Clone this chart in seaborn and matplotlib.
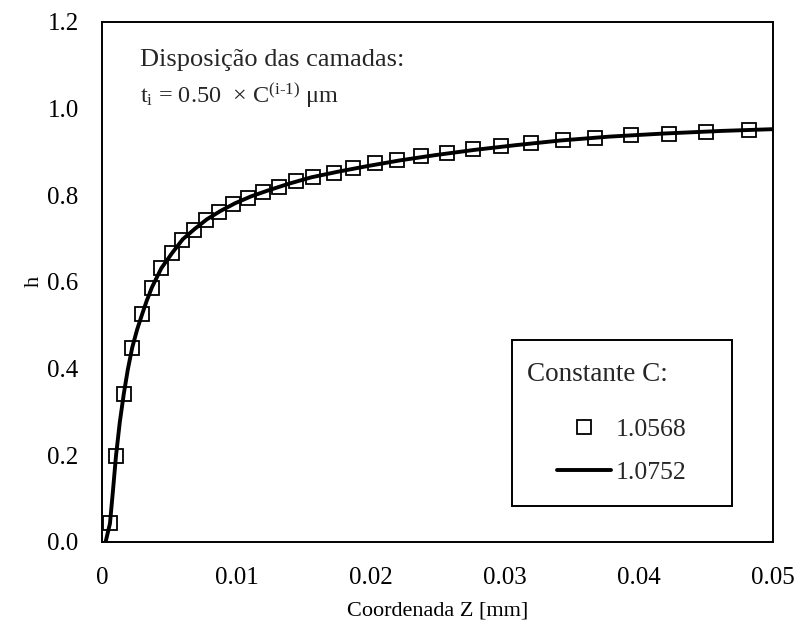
import matplotlib
matplotlib.use("Agg")
import matplotlib.pyplot as plt
import seaborn as sns
import pandas as pd
from matplotlib.patches import Rectangle

# ---- data ----
z_c1 = [0.00057, 0.00102, 0.00160, 0.00223, 0.00297, 0.00370, 0.00440, 0.00522,
        0.00592, 0.00681, 0.00773, 0.00872, 0.00976, 0.01083, 0.01200, 0.01319,
        0.01443, 0.01572, 0.01727, 0.01870, 0.02032, 0.02201, 0.02375, 0.02571,
        0.02765, 0.02976, 0.03200, 0.03435, 0.03677, 0.03945, 0.04225, 0.04504,
        0.04821]
h_c1 = [0.042, 0.198, 0.341, 0.448, 0.525, 0.585, 0.631, 0.667,
        0.696, 0.719, 0.742, 0.761, 0.779, 0.794, 0.807, 0.819,
        0.832, 0.842, 0.851, 0.863, 0.873, 0.882, 0.889, 0.898,
        0.906, 0.913, 0.920, 0.926, 0.931, 0.938, 0.942, 0.946,
        0.949]

z_c2 = [0.00025, 0.00057, 0.0008, 0.00102, 0.0013, 0.0016, 0.0019, 0.00223,
        0.0026, 0.00297, 0.0033, 0.0037, 0.0044, 0.0052, 0.0060, 0.0069,
        0.0078, 0.0088, 0.0099, 0.0111, 0.0124, 0.0139, 0.0156, 0.0176,
        0.0198, 0.0222, 0.0248, 0.0277, 0.0308, 0.0342, 0.0379, 0.0419,
        0.0462, 0.0500]
h_c2 = [0.000, 0.042, 0.120, 0.198, 0.275, 0.341, 0.397, 0.448,
        0.490, 0.525, 0.555, 0.587, 0.631, 0.666, 0.698, 0.722,
        0.744, 0.763, 0.781, 0.797, 0.811, 0.826, 0.841, 0.854,
        0.867, 0.880, 0.892, 0.904, 0.915, 0.926, 0.935, 0.942,
        0.948, 0.952]

label_c1 = "1.0568"
label_c2 = "1.0752"
legend_title = "Constante C:"
x_ticks = [0, 0.01, 0.02, 0.03, 0.04, 0.05]
x_tick_labels = ["0", "0.01", "0.02", "0.03", "0.04", "0.05"]
y_ticks = [0.0, 0.2, 0.4, 0.6, 0.8, 1.0, 1.2]
y_tick_labels = ["0.0", "0.2", "0.4", "0.6", "0.8", "1.0", "1.2"]

sns.set_theme(style="white")
plt.rcParams["font.family"] = ["Liberation Serif", "DejaVu Serif"]
plt.rcParams["mathtext.fontset"] = "custom"
plt.rcParams["mathtext.rm"] = "Liberation Serif"
plt.rcParams["mathtext.it"] = "Liberation Serif:italic"
FS = 18

fig = plt.figure(figsize=(8, 6.26), dpi=100)
ax = fig.add_axes([0.1279, 0.1347, 0.8380, 0.8306])

df1 = pd.DataFrame({"z": z_c1, "h": h_c1})
df2 = pd.DataFrame({"z": z_c2, "h": h_c2})

sns.lineplot(data=df1, x="z", y="h", ax=ax, sort=False, estimator=None,
             linestyle="", marker="s", markersize=9.5, markerfacecolor="none",
             markeredgecolor="black", markeredgewidth=1.3, color="black",
             label=label_c1)
sns.lineplot(data=df2, x="z", y="h", ax=ax, sort=False, estimator=None,
             color="black", linewidth=2.8, label=label_c2)

ax.set_xlim(0, 0.05)
ax.set_ylim(0, 1.2)
ax.set_xticks(x_ticks)
ax.set_xticklabels(x_tick_labels)
ax.set_yticks(y_ticks)
ax.set_yticklabels(y_tick_labels)
ax.tick_params(direction="in", length=6, width=1.2, labelsize=FS,
               colors="black")
ax.tick_params(axis="x", pad=18)
ax.tick_params(axis="y", pad=17)
for s in ax.spines.values():
    s.set_visible(True)
    s.set_color("black")
    s.set_linewidth(1.4)

ax.set_xlabel("Coordenada Z [mm]", fontsize=16, color="black", labelpad=9)
ax.set_ylabel("h", fontsize=16, color="black", labelpad=3)

ax.text(0.056, 0.915, "Disposição das camadas:", transform=ax.transAxes,
        fontsize=19, va="baseline", ha="left")
ax.text(0.056, 0.844,
        r"$\mathregular{t_i}$ = 0.50  × $\mathregular{C^{(i\text{-}1)}}$ μm",
        transform=ax.transAxes, fontsize=17.5, va="baseline", ha="left")

# legend box
ax.add_patch(Rectangle((0.611, 0.069), 0.328, 0.319, transform=ax.transAxes,
                       facecolor="white", edgecolor="black", linewidth=1.4,
                       zorder=4))
ax.text(0.6335, 0.322, legend_title, transform=ax.transAxes, fontsize=19.5,
        va="center", ha="left", zorder=6)
leg = ax.legend(loc="center left", bbox_to_anchor=(0.678, 0.175),
                frameon=False, fontsize=18.5, handlelength=2.1,
                handletextpad=0.2, labelspacing=0.78, borderpad=0.0,
                borderaxespad=0.0)
leg.set_zorder(5)

fig.savefig("out.png", dpi=100)
